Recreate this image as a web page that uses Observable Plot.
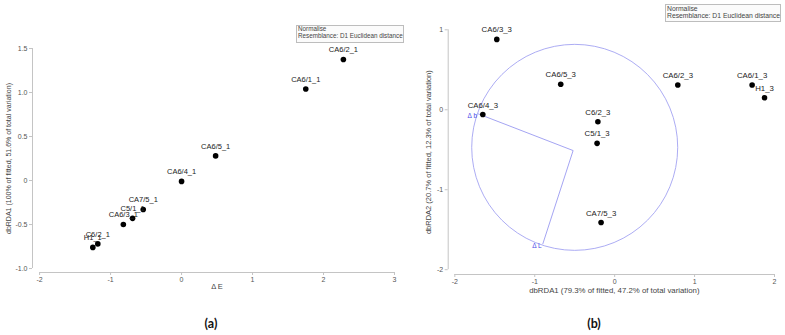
<!DOCTYPE html>
<html>
<head>
<meta charset="utf-8">
<script src="https://cdn.jsdelivr.net/npm/d3@7"></script>
<script src="https://cdn.jsdelivr.net/npm/@observablehq/plot@0.6"></script>
<style>
  html, body { margin: 0; padding: 0; background: #fff; }
  #wrap { position: relative; width: 785px; height: 335px; overflow: hidden; font-family: "Liberation Sans", Arial, sans-serif; }
  .panel { position: absolute; top: 0; }
  .legend { position: absolute; border: 1px solid #bdbdbd; background: #fbfbfb; color: #444; line-height: 1.05; padding: 0 1px; white-space: nowrap; }
  .cap { position: absolute; font-family: Lato, "Open Sans", sans-serif; font-weight: bold; font-size: 12.5px; color: #111; transform: translate(-50%, -50%); }
</style>
</head>
<body>
<div id="wrap">
  <div id="pa" class="panel" style="left:0px"></div>
  <div id="pb" class="panel" style="left:400px"></div>
  <div class="legend" style="left:296px; top:25px; width:104px; height:16px; font-size:6.3px;">Normalise<br>Resemblance: D1 Euclidean distance</div>
  <div class="legend" style="left:665px; top:4px; width:112px; height:16px; font-size:6.8px;">Normalise<br>Resemblance: D1 Euclidean distance</div>
  <div class="cap" style="left:211px; top:323px;">(a)</div>
  <div class="cap" style="left:594px; top:323px;">(b)</div>
</div>
<script>
// ---- Panel (a) data ----
const namesA = ["CA6/2_1", "CA6/1_1", "CA6/5_1", "CA6/4_1", "CA7/5_1", "C5/1_1", "CA6/3_1", "C6/2_1", "H1_1"];
const xA = [2.28, 1.75, 0.48, 0.00, -0.54, -0.69, -0.82, -1.18, -1.25];
const yA = [1.375, 1.04, 0.28, -0.01, -0.33, -0.43, -0.50, -0.72, -0.76];
const xTicksA = [-2, -1, 0, 1, 2, 3];
const yTicksA = [-1.0, -0.5, 0, 0.5, 1.0, 1.5];
const xLabelA = "\u0394 E";
const yLabelA = "dbRDA1 (100% of fitted, 51.6% of total variation)";

// ---- Panel (b) data ----
const namesB = ["CA6/3_3", "CA6/5_3", "CA6/2_3", "CA6/1_3", "H1_3", "CA6/4_3", "C6/2_3", "C5/1_3", "CA7/5_3"];
const xB = [-1.475, -0.675, 0.79, 1.72, 1.875, -1.65, -0.21, -0.22, -0.17];
const yB = [0.88, 0.32, 0.31, 0.31, 0.15, -0.06, -0.15, -0.42, -1.41];
const xTicksB = [-2, -1, 0, 1, 2];
const yTicksB = [-2, -1, 0, 1];
const xLabelB = "dbRDA1 (79.3% of fitted, 47.2% of total variation)";
const yLabelB = "dbRDA2 (20.7% of fitted, 12.3% of total variation)";
// vector overlay
const vecNames = ["\u0394 b", "\u0394 L"];
const vecX = [-1.71, -0.90];
const vecY = [-0.05, -1.68];
const vecOrigin = [-0.52, -0.51];
const circleCenter = [-0.50, -0.47];

const ptsA = namesA.map((n, i) => ({name: n, x: xA[i], y: yA[i]}));
const ptsB = namesB.map((n, i) => ({name: n, x: xB[i], y: yB[i]}));
const vecs = vecNames.map((n, i) => ({name: n, x1: vecOrigin[0], y1: vecOrigin[1], x2: vecX[i], y2: vecY[i]}));

const AXIS = "#c4c4c4";
const TICKTXT = "#555";
const font = "'Liberation Sans', Arial, sans-serif";
const fmtA = d => d === 0 ? "0" : d.toFixed(1);
const fmtInt = d => String(d);

const plotA = Plot.plot({
  width: 400, height: 300,
  marginLeft: 32, marginRight: 6, marginTop: 48, marginBottom: 28,
  x: {domain: [-2.1, 3]},
  y: {domain: [-1.045, 1.5]},
  style: {fontFamily: font, fontSize: "7px", background: "transparent", overflow: "visible"},
  marks: [
    Plot.ruleX([-2.1], {y1: -1.0, y2: 1.5, stroke: AXIS}),
    Plot.ruleY([-1.045], {x1: -2, x2: 3, stroke: AXIS}),
    Plot.axisX({ticks: xTicksA, tickSize: 3, tickPadding: 2, tickFormat: fmtInt, stroke: AXIS, fill: TICKTXT, label: null}),
    Plot.axisY({ticks: yTicksA, tickSize: 3, tickPadding: 2, tickFormat: fmtA, stroke: AXIS, fill: TICKTXT, label: null}),
    Plot.text([xLabelA], {frameAnchor: "bottom", textAnchor: "middle", dx: 3.5, dy: 16, fill: "#444", fontSize: 7.5}),
    Plot.text([yLabelA], {frameAnchor: "left", textAnchor: "middle", rotate: -90, dx: -24, dy: -2, fill: "#444", fontSize: 7}),
    Plot.dot(ptsA, {x: "x", y: "y", r: 2.8, fill: "#000"}),
    Plot.text(ptsA, {x: "x", y: "y", text: "name", dy: -9.5, fill: "#222", fontSize: 7.5})
  ]
});
document.getElementById("pa").appendChild(plotA);

const plotB = Plot.plot({
  width: 385, height: 300,
  marginLeft: 47.7, marginRight: 11, marginTop: 29.3, marginBottom: 26,
  x: {domain: [-2.083, 2]},
  y: {domain: [-2.06, 1]},
  style: {fontFamily: font, fontSize: "7px", background: "transparent", overflow: "visible"},
  marks: [
    Plot.ruleX([-2.083], {y1: -2, y2: 1, stroke: AXIS}),
    Plot.ruleY([-2.06], {x1: -2, x2: 2, stroke: AXIS}),
    Plot.axisX({ticks: xTicksB, tickSize: 3, tickPadding: 2, tickFormat: fmtInt, stroke: AXIS, fill: TICKTXT, label: null}),
    Plot.axisY({ticks: yTicksB, tickSize: 3, tickPadding: 2, tickFormat: fmtInt, stroke: AXIS, fill: TICKTXT, label: null}),
    Plot.text([xLabelB], {frameAnchor: "bottom", textAnchor: "middle", dx: 3, dy: 18, fill: "#444", fontSize: 7.8}),
    Plot.text([yLabelB], {frameAnchor: "left", textAnchor: "middle", rotate: -90, dx: -20, dy: 0, fill: "#444", fontSize: 7.5}),
    Plot.dot([circleCenter], {x: d => d[0], y: d => d[1], r: 103, fill: "none", stroke: "#a3a3f2", strokeWidth: 0.9}),
    Plot.link(vecs, {x1: "x1", y1: "y1", x2: "x2", y2: "y2", stroke: "#9a9af0", strokeWidth: 0.9}),
    Plot.text(vecs, {x: "x2", y: "y2", text: "name", textAnchor: "end", dx: -1, dy: 2, fill: "#4a4ae8", fontSize: 6.5}),
    Plot.dot(ptsB, {x: "x", y: "y", r: 2.8, fill: "#000"}),
    Plot.text(ptsB, {x: "x", y: "y", text: "name", dy: -9.5, fill: "#222", fontSize: 7.8})
  ]
});
document.getElementById("pb").appendChild(plotB);
</script>
</body>
</html>
